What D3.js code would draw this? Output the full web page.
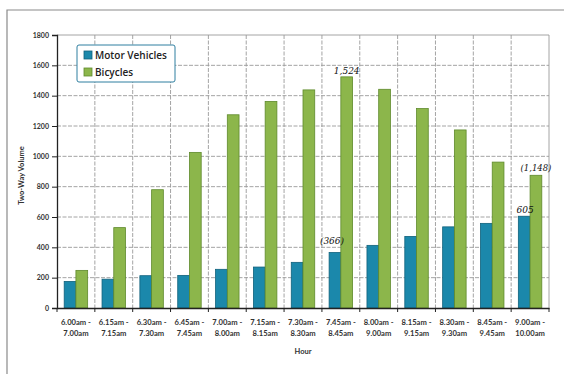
<!DOCTYPE html>
<html>
<head>
<meta charset="utf-8">
<script src="https://cdn.jsdelivr.net/npm/d3@7"></script>
<style>
  html, body { margin: 0; padding: 0; background: #fff; }
  svg { display: block; }
</style>
</head>
<body>
<svg id="chart" width="564" height="374"></svg>
<script>
// Rolling one-hour periods (start / end)
const periodStart = ["6.00am -", "6.15am -", "6.30am -", "6.45am -", "7.00am -", "7.15am -", "7.30am -",
                     "7.45am -", "8.00am -", "8.15am -", "8.30am -", "8.45am -", "9.00am -"];
const periodEnd   = ["7.00am", "7.15am", "7.30am", "7.45am", "8.00am", "8.15am", "8.30am",
                     "8.45am", "9.00am", "9.15am", "9.30am", "9.45am", "10.00am"];

// Two-way volumes per period
const motorVehicles = [175, 190, 213, 215, 255, 270, 301, 366, 413, 472, 535, 558, 605];
const bicycles      = [248, 530, 780, 1026, 1274, 1362, 1438, 1524, 1442, 1315, 1174, 962, 875];

const seriesNames = ["Motor Vehicles", "Bicycles"];
const seriesColors = ["#1b88ab", "#8cb64b"];
const seriesStroke = ["#10617c", "#5f8a2c"];

const yTicks = [0, 200, 400, 600, 800, 1000, 1200, 1400, 1600, 1800];

// Hand-written notes on the chart
const notes = [
  { text: "1,524", period: 7, series: 1, value: 1524, dx: 0, dy: -3 },
  { text: "(366)", period: 7, series: 0, value: 366, dx: -3, dy: -8 },
  { text: "605", period: 12, series: 0, value: 605, dx: 1, dy: -3 },
  { text: "(1,148)", period: 12, series: 1, value: 875, dx: 0, dy: -4 }
];

const svg = d3.select("#chart");
const plot = { left: 57, right: 549, top: 35, bottom: 308 };

const cats = d3.range(periodStart.length);
const x = d3.scaleBand().domain(cats).range([plot.left, plot.right]).padding(0);
const bw = x.bandwidth();
const x1 = d3.scaleBand().domain([0, 1]).range([bw * 0.19, bw * 0.81]).padding(0);
const y = d3.scaleLinear().domain([0, 1800]).range([plot.bottom, plot.top]);

// Outer frame
svg.append("path")
  .attr("d", `M7,374 L7,10 L564,10`)
  .attr("fill", "none").attr("stroke", "#8a8a8a").attr("stroke-width", 1.2);

// Horizontal gridlines
svg.append("g").selectAll("line").data(yTicks.slice(1)).join("line")
  .attr("x1", plot.left).attr("x2", plot.right)
  .attr("y1", d => y(d)).attr("y2", d => y(d))
  .attr("stroke", "#9a9a9a").attr("stroke-width", 0.9)
  .attr("stroke-dasharray", d => d === 1800 ? null : "4,1.5");

// Vertical gridlines at period boundaries
svg.append("g").selectAll("line").data(cats.slice(1)).join("line")
  .attr("x1", d => x(d)).attr("x2", d => x(d))
  .attr("y1", plot.top).attr("y2", plot.bottom)
  .attr("stroke", "#9a9a9a").attr("stroke-width", 0.9)
  .attr("stroke-dasharray", "4,1.5");
svg.append("line")
  .attr("x1", plot.right).attr("x2", plot.right)
  .attr("y1", plot.top).attr("y2", plot.bottom)
  .attr("stroke", "#9a9a9a").attr("stroke-width", 0.9);

// Bars
const seriesData = [motorVehicles, bicycles];
seriesData.forEach((vals, s) => {
  svg.append("g").selectAll("rect").data(vals).join("rect")
    .attr("x", (d, i) => x(i) + x1(s))
    .attr("y", d => y(d))
    .attr("width", x1.bandwidth())
    .attr("height", d => y(0) - y(d))
    .attr("fill", seriesColors[s])
    .attr("stroke", seriesStroke[s])
    .attr("stroke-width", 0.8);
});

// Y axis
const yAxis = d3.axisLeft(y).tickValues(yTicks).tickFormat(d3.format("d")).tickSize(5).tickPadding(3);
const gy = svg.append("g").attr("transform", `translate(${plot.left},0)`).call(yAxis);
gy.select(".domain").attr("stroke", "#222").attr("stroke-width", 1.3);
gy.selectAll(".tick line").attr("stroke", "#222").attr("x2", -5).attr("x1", 1);
gy.selectAll(".tick text")
  .attr("font-family", "Lato, 'Open Sans', sans-serif")
  .attr("font-size", 7).attr("font-weight", "bold").attr("fill", "#333");

// X axis with two-line period labels
const xAxis = d3.axisBottom(x).tickSize(0).tickFormat("");
const gx = svg.append("g").attr("transform", `translate(0,${plot.bottom})`).call(xAxis);
gx.select(".domain").attr("stroke", "#222").attr("stroke-width", 1.3);
svg.append("g").selectAll("line").data(cats.concat([cats.length])).join("line")
  .attr("x1", d => d < cats.length ? x(d) : plot.right)
  .attr("x2", d => d < cats.length ? x(d) : plot.right)
  .attr("y1", plot.bottom).attr("y2", plot.bottom + 4)
  .attr("stroke", "#222").attr("stroke-width", 1);

const labels = svg.append("g")
  .attr("font-family", "Lato, 'Open Sans', sans-serif")
  .attr("font-size", 7.6).attr("fill", "#333").attr("font-weight", "bold")
  .attr("text-anchor", "middle");
cats.forEach(i => {
  const t = labels.append("text").attr("x", x(i) + bw / 2).attr("y", plot.bottom + 17);
  t.append("tspan").attr("x", x(i) + bw / 2).text(periodStart[i]);
  t.append("tspan").attr("x", x(i) + bw / 2).attr("dy", 11).text(periodEnd[i]);
});

// Axis titles
svg.append("text")
  .attr("x", (plot.left + plot.right) / 2).attr("y", 354)
  .attr("text-anchor", "middle")
  .attr("font-family", "Lato, 'Open Sans', sans-serif")
  .attr("font-size", 7.5).attr("font-weight", "bold").attr("fill", "#333")
  .text("Hour");
svg.append("text")
  .attr("transform", `translate(24,${(plot.top + plot.bottom) / 2 + 4}) rotate(-90)`)
  .attr("text-anchor", "middle")
  .attr("font-family", "Lato, 'Open Sans', sans-serif")
  .attr("font-size", 7.5).attr("font-weight", "bold").attr("fill", "#333")
  .text("Two-Way Volume");

// Legend
const legend = svg.append("g").attr("transform", "translate(77,45)");
legend.append("rect")
  .attr("width", 98).attr("height", 37).attr("rx", 2)
  .attr("fill", "#fff").attr("stroke", "#2f7fa0").attr("stroke-width", 1);
seriesNames.forEach((name, s) => {
  const row = legend.append("g").attr("transform", `translate(7,${10 + s * 17})`);
  row.append("rect").attr("x", 0).attr("y", -4).attr("width", 8).attr("height", 8)
    .attr("fill", seriesColors[s]).attr("stroke", seriesStroke[s]).attr("stroke-width", 0.8);
  row.append("text").attr("x", 11).attr("y", 4)
    .attr("font-family", "'Open Sans', Lato, sans-serif")
    .attr("font-size", 10).attr("font-weight", 600).attr("fill", "#222")
    .text(name);
});

// Notes
svg.append("g").selectAll("text").data(notes).join("text")
  .attr("x", d => x(d.period) + x1(d.series) + x1.bandwidth() / 2 + d.dx)
  .attr("y", d => y(d.value) + d.dy)
  .attr("text-anchor", "middle")
  .attr("font-family", "'DejaVu Serif', serif")
  .attr("font-style", "italic")
  .attr("font-size", d => d.text === "(1,148)" ? 8.5 : 9)
  .attr("fill", "#111")
  .text(d => d.text);
</script>
</body>
</html>
